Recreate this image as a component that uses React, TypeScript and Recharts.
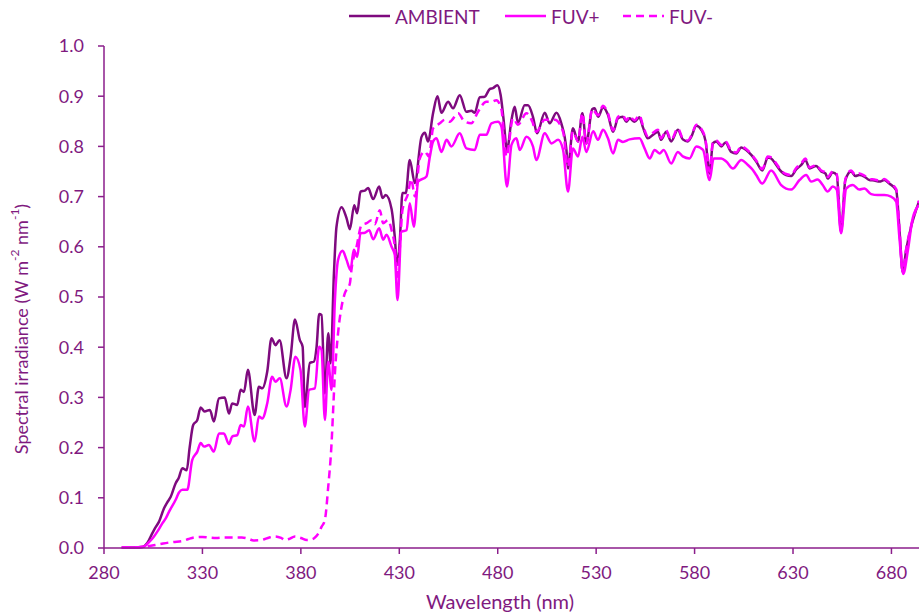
import React from 'react';
import { LineChart, Line, XAxis, YAxis, Label } from 'recharts';

// wavelength (nm) / spectral irradiance (W m-2 nm-1)
const ambientNm = [
  289, 295, 299.5, 302, 304.5, 306, 307.9, 310.5, 312, 313.9, 316.4, 318, 319.8, 322, 323.5, 325.3, 327.4,
  329.1, 331.1, 333.8, 335.8, 338.4, 341.3, 343.5, 345.1, 347.7, 349.4, 351.1, 353.1, 356.5, 358.7, 360.4,
  362.9, 365.1, 367.1, 369.2, 372.7, 374.8, 377, 379.5, 380.9, 382, 384.6, 386.6, 388, 389.3, 390.5, 392.2,
  393.9, 395.1, 396.8, 398.1, 400.7, 403.2, 404.9, 407.1, 408.6, 410.3, 412.5, 414.2, 416.7, 419.8, 421.5,
  423.1, 426.1, 427.7, 428.9, 430.3, 431.6, 433.3, 435.3, 437.9, 441.3, 443, 444.6, 447.2, 449.4, 451.4,
  454.8, 457.3, 460.7, 464.1, 466.6, 468.3, 470.9, 473.4, 475.9, 477.6, 479.8, 481.5, 483, 484.7, 487,
  488.6, 490.3, 493.7, 495.4, 497.9, 500, 503.9, 506.4, 509.8, 512.3, 514.9, 515.7, 518.2, 520.8, 523, 525,
  528, 529.2, 531, 533.5, 536, 538.6, 541.1, 543.6, 545.3, 547, 549.5, 552, 553.7, 556.3, 558.8, 561.4,
  563, 565.6, 568.1, 571.5, 574, 576.6, 578.3, 580.9, 583.4, 585.6, 587.6, 589.3, 591, 593.6, 595.7, 598.6,
  601.2, 603.7, 606.2, 608.8, 611.3, 614.4, 617.2, 618.9, 621.5, 624, 626.5, 629.1, 631.6, 634.2, 636.3,
  638.4, 641.7, 644.3, 646.5, 647.6, 650.2, 652.2, 654.4, 656.6, 659.5, 661.7, 663.7, 666.2, 668.8, 671.3,
  673.9, 676.4, 678.9, 682.4, 684.1, 685.7, 687.5, 690, 692.5, 694,
];
const ambient = [
  0.001, 0.001, 0.002, 0.01, 0.029, 0.04, 0.052, 0.079, 0.09, 0.102, 0.129, 0.14, 0.159, 0.155, 0.2, 0.245, 0.255,
  0.28, 0.272, 0.275, 0.252, 0.298, 0.3, 0.268, 0.288, 0.285, 0.315, 0.311, 0.355, 0.265, 0.321, 0.318,
  0.351, 0.418, 0.404, 0.414, 0.338, 0.381, 0.455, 0.414, 0.401, 0.281, 0.369, 0.371, 0.401, 0.466, 0.464, 0.308,
  0.428, 0.368, 0.547, 0.64, 0.679, 0.657, 0.635, 0.683, 0.667, 0.71, 0.712, 0.717, 0.695, 0.72, 0.697,
  0.703, 0.675, 0.62, 0.564, 0.614, 0.707, 0.707, 0.773, 0.727, 0.819, 0.827, 0.81, 0.867, 0.9, 0.867,
  0.889, 0.876, 0.902, 0.869, 0.871, 0.867, 0.898, 0.899, 0.914, 0.916, 0.922, 0.902, 0.853, 0.793, 0.853,
  0.879, 0.847, 0.882, 0.882, 0.859, 0.826, 0.867, 0.846, 0.867, 0.846, 0.793, 0.756, 0.836, 0.81, 0.866, 0.806,
  0.874, 0.876, 0.859, 0.878, 0.863, 0.829, 0.856, 0.859, 0.849, 0.856, 0.849, 0.858, 0.839, 0.816, 0.823, 0.829,
  0.813, 0.829, 0.81, 0.833, 0.814, 0.81, 0.819, 0.841, 0.833, 0.81, 0.746, 0.806, 0.81, 0.8, 0.808, 0.789,
  0.786, 0.798, 0.793, 0.783, 0.77, 0.752, 0.778, 0.776, 0.763, 0.75, 0.743, 0.741, 0.754, 0.763, 0.773,
  0.756, 0.761, 0.75, 0.746, 0.736, 0.748, 0.743, 0.63, 0.733, 0.75, 0.741, 0.743, 0.74, 0.733, 0.732,
  0.73, 0.733, 0.726, 0.713, 0.633, 0.55, 0.594, 0.64, 0.673, 0.69,
];

const fuvPlusNm = [
  289, 295, 300.3, 303, 305.4, 307.5, 309.6, 311.5, 313, 316.4, 318, 319.8, 322.3, 324.8, 327.4, 329.1, 330.8,
  333.3, 335.8, 338.4, 340.9, 343.5, 345.1, 347.7, 349.4, 351.1, 353.1, 356.5, 358.7, 360.4, 362.9, 365.4,
  367.1, 369.3, 372.7, 374.8, 377.2, 379.8, 382, 384.2, 387.1, 389.3, 390.5, 392.2, 393.9, 395.6, 397.3,
  398.9, 401.2, 403.2, 405.2, 406.9, 408.6, 410.3, 412.5, 414.7, 416.7, 419.8, 421.8, 423.5, 426.1, 427.7,
  429.1, 431.1, 433.7, 435.3, 437.4, 439.6, 443.8, 445.5, 447.2, 448.9, 451.4, 454, 456.5, 460.7, 464.1,
  468.3, 470.9, 474.2, 476.8, 480.1, 481.9, 484.7, 487, 489.5, 491.2, 494.6, 497.9, 499.6, 503.9, 507.3,
  510.7, 513.2, 515.7, 518.2, 520.8, 523, 525, 528.5, 530.9, 533.5, 536, 538.6, 541.1, 543.6, 547, 552,
  554.6, 557.2, 559.7, 562.2, 564.3, 568.1, 571.5, 574, 577.4, 580.9, 584.3, 587.6, 589.7, 593.6, 596.1,
  599.5, 603.7, 607.1, 609.6, 611.3, 614.4, 618.9, 624, 626.5, 629.1, 633.3, 636.7, 639.2, 642.5, 645.1,
  647.6, 650.2, 652.2, 654.4, 657, 660.4, 663.7, 666.2, 669.7, 673, 676.4, 679.8, 682.4, 684.1, 686, 688.4,
  690.8, 694,
];
const fuvPlus = [
  0.001, 0.001, 0.003, 0.012, 0.023, 0.035, 0.049, 0.06, 0.072, 0.096, 0.11, 0.116, 0.116, 0.175, 0.192, 0.209, 0.202,
  0.205, 0.192, 0.228, 0.228, 0.207, 0.222, 0.225, 0.245, 0.242, 0.282, 0.212, 0.262, 0.258, 0.288, 0.341,
  0.331, 0.338, 0.282, 0.315, 0.381, 0.355, 0.242, 0.315, 0.318, 0.401, 0.395, 0.255, 0.371, 0.315, 0.494,
  0.574, 0.592, 0.574, 0.554, 0.594, 0.58, 0.627, 0.628, 0.633, 0.615, 0.637, 0.614, 0.624, 0.6, 0.584,
  0.494, 0.63, 0.633, 0.687, 0.64, 0.73, 0.74, 0.779, 0.81, 0.816, 0.789, 0.813, 0.8, 0.826, 0.796,
  0.793, 0.823, 0.823, 0.846, 0.849, 0.839, 0.72, 0.803, 0.816, 0.793, 0.819, 0.8, 0.773, 0.826, 0.806,
  0.813, 0.793, 0.71, 0.796, 0.78, 0.819, 0.789, 0.83, 0.813, 0.833, 0.816, 0.786, 0.813, 0.809, 0.814, 0.816,
  0.796, 0.776, 0.793, 0.786, 0.793, 0.766, 0.789, 0.78, 0.776, 0.8, 0.793, 0.733, 0.776, 0.776, 0.77,
  0.756, 0.773, 0.763, 0.753, 0.743, 0.726, 0.752, 0.723, 0.716, 0.714, 0.733, 0.743, 0.73, 0.734, 0.723,
  0.71, 0.72, 0.714, 0.627, 0.716, 0.723, 0.714, 0.716, 0.705, 0.703, 0.703, 0.7, 0.69, 0.616, 0.546, 0.594,
  0.657, 0.683,
];

const fuvMinusNm = [
  289, 295, 300, 303, 306, 310, 315, 320, 323, 326, 330, 333, 337, 341, 345, 350, 353, 356, 360, 364, 367,
  370, 372, 374, 377, 380, 383, 385.5, 387.5, 389, 390.5, 392.2, 393.9, 395.6, 396.4, 397.3, 398.9, 400.7,
  402.3, 404.9, 405.7, 408.3, 410.8, 413.4, 415.9, 417.6, 420.1, 421.8, 424.3, 426.1, 427.7, 428.9, 430.3,
  431.6, 434.5, 436, 438, 440.4, 443, 445, 447.2, 450.6, 453.1, 455.6, 459.9, 463, 466.6, 470, 474.2, 477,
  479.3, 481.9, 483, 484.4, 487.8, 490.3, 494.6, 497.5, 499.6, 503.9, 509, 513.2, 515.7, 518.2, 520.8, 523,
  525, 528, 531, 533.5, 536, 538.6, 541.1, 543.6, 545.3, 547, 549.5, 552, 553.7, 556.3, 558.8, 561.4, 563,
  565.6, 568.1, 571.5, 574, 576.6, 578.3, 580.9, 583.4, 585.6, 587.6, 589.3, 591, 593.6, 595.7, 598.6, 601.2,
  603.7, 606.2, 608.8, 611.3, 614.4, 617.2, 618.9, 621.5, 624, 626.5, 629.1, 631.6, 634.2, 636.3, 638.4,
  641.7, 644.3, 646.5, 647.6, 650.2, 652.2, 654.4, 656.6, 659.5, 661.7, 663.7, 666.2, 668.8, 671.3, 673.9,
  676.4, 678.9, 682.4, 684.1, 685.7, 687.5, 690, 692.5, 694,
];
const fuvMinus = [
  0.001, 0.001, 0.002, 0.004, 0.006, 0.009, 0.012, 0.014, 0.018, 0.021, 0.022, 0.021, 0.02, 0.021, 0.021, 0.021,
  0.019, 0.015, 0.016, 0.021, 0.023, 0.02, 0.016, 0.018, 0.023, 0.02, 0.016, 0.017, 0.022, 0.03, 0.042, 0.056,
  0.122, 0.209, 0.275, 0.348, 0.428, 0.481, 0.507, 0.527, 0.554, 0.6, 0.643, 0.647, 0.653, 0.645, 0.673,
  0.647, 0.653, 0.633, 0.6, 0.54, 0.6, 0.673, 0.707, 0.735, 0.7, 0.776, 0.79, 0.78, 0.836, 0.846, 0.853,
  0.849, 0.866, 0.85, 0.846, 0.869, 0.889, 0.889, 0.892, 0.873, 0.83, 0.78, 0.856, 0.843, 0.866, 0.85,
  0.829, 0.853, 0.853, 0.829, 0.76, 0.83, 0.81, 0.866, 0.806, 0.874, 0.862, 0.881, 0.866, 0.832, 0.859,
  0.862, 0.852, 0.86, 0.852, 0.862, 0.843, 0.82, 0.827, 0.833, 0.816, 0.832, 0.813, 0.836, 0.816, 0.812,
  0.821, 0.843, 0.835, 0.812, 0.75, 0.808, 0.812, 0.803, 0.81, 0.792, 0.788, 0.8, 0.795, 0.785, 0.772, 0.755,
  0.78, 0.778, 0.766, 0.752, 0.745, 0.743, 0.757, 0.766, 0.776, 0.758, 0.763, 0.752, 0.748, 0.739, 0.75,
  0.745, 0.632, 0.735, 0.752, 0.743, 0.746, 0.742, 0.735, 0.734, 0.732, 0.735, 0.728, 0.715, 0.635, 0.552,
  0.596, 0.642, 0.675, 0.692,
];

const xTicks = [280, 330, 380, 430, 480, 530, 580, 630, 680];
const yTicks = [0, 0.1, 0.2, 0.3, 0.4, 0.5, 0.6, 0.7, 0.8, 0.9, 1.0];

const toRows = (nm: number[], vals: number[]) => nm.map((x, i) => ({ nm: x, value: vals[i] }));

const FONT = 'Lato, "Open Sans", sans-serif';
const TEXT = '#7F1A7F';
const AXIS = '#8B1E8B';
const DARK = '#7E0A7E';
const PINK = '#FF00FF';

const YTitle = () => {
  const cx = 21;
  const cy = 329;
  return (
    <text
      x={cx}
      y={cy}
      transform={`rotate(-90, ${cx}, ${cy})`}
      textAnchor="middle"
      dominantBaseline="central"
      fill={TEXT}
      fontSize={18}
      fontFamily={FONT}
    >
      Spectral irradiance (W m
      <tspan dy={-7} fontSize={12}>-2</tspan>
      <tspan dy={7}> nm</tspan>
      <tspan dy={-7} fontSize={12}>-1</tspan>
      <tspan dy={7}>)</tspan>
    </text>
  );
};

const XTitle = () => (
  <text x={500} y={601} textAnchor="middle" dominantBaseline="central" fill={TEXT} fontSize={20} fontFamily={FONT}>
    Wavelength (nm)
  </text>
);

const legendItems = [
  { name: 'AMBIENT', color: DARK, dash: undefined as string | undefined, left: 349 },
  { name: 'FUV+', color: PINK, dash: undefined as string | undefined, left: 505 },
  { name: 'FUV-', color: PINK, dash: '8 5', left: 623 },
];

export default function App() {
  return (
    <div style={{ position: 'absolute', left: 0, top: 0, width: 919, height: 616, background: '#fff' }}>
      <LineChart width={919} height={616} margin={{ top: 46, right: 0, bottom: 0, left: 0 }}>
        <XAxis
          type="number"
          dataKey="nm"
          domain={[280, 694]}
          ticks={xTicks}
          allowDataOverflow
          height={68}
          tickSize={6}
          tickMargin={12}
          stroke={AXIS}
          strokeWidth={1.5}
          tick={{ fill: TEXT, fontSize: 18, fontFamily: FONT }}
        >
          <Label content={<XTitle />} />
        </XAxis>
        <YAxis
          type="number"
          domain={[0, 1]}
          ticks={yTicks}
          width={104}
          tickSize={6}
          tickMargin={14}
          stroke={AXIS}
          strokeWidth={1.5}
          tickFormatter={(v: number) => v.toFixed(1)}
          tick={{ fill: TEXT, fontSize: 18, fontFamily: FONT }}
        >
          <Label content={<YTitle />} />
        </YAxis>
        <Line
          data={toRows(ambientNm, ambient)}
          dataKey="value"
          name="AMBIENT"
          type="monotone"
          stroke={DARK}
          strokeWidth={2.5}
          dot={false}
          isAnimationActive={false}
        />
        <Line
          data={toRows(fuvPlusNm, fuvPlus)}
          dataKey="value"
          name="FUV+"
          type="monotone"
          stroke={PINK}
          strokeWidth={2.5}
          dot={false}
          isAnimationActive={false}
        />
        <Line
          data={toRows(fuvMinusNm, fuvMinus)}
          dataKey="value"
          name="FUV-"
          type="monotone"
          stroke={PINK}
          strokeWidth={2.5}
          strokeDasharray="8 5"
          dot={false}
          isAnimationActive={false}
        />
      </LineChart>
      {legendItems.map((it) => (
        <div
          key={it.name}
          style={{
            position: 'absolute',
            left: it.left,
            top: 4,
            height: 24,
            display: 'flex',
            alignItems: 'center',
            fontFamily: FONT,
            fontSize: 19,
            color: TEXT,
          }}
        >
          <svg width={41} height={6} style={{ marginRight: 5 }}>
            <line x1={0} y1={3} x2={41} y2={3} stroke={it.color} strokeWidth={2.5} strokeDasharray={it.dash} />
          </svg>
          {it.name}
        </div>
      ))}
    </div>
  );
}
